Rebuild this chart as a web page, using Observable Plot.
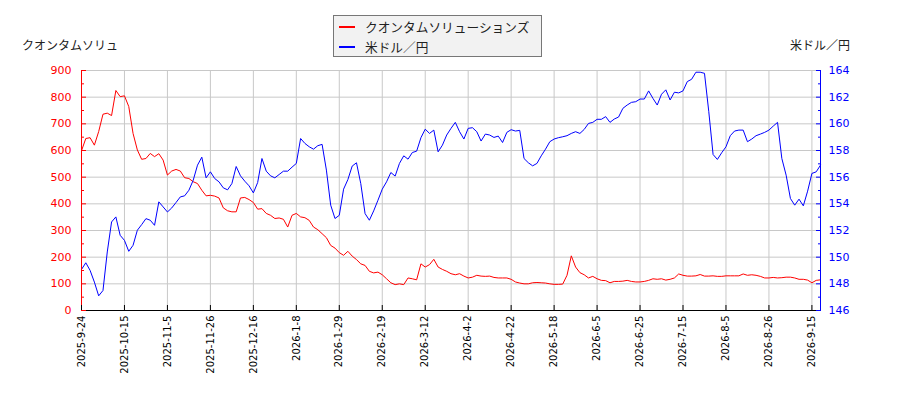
<!DOCTYPE html>
<html>
<head>
<meta charset="utf-8">
<script src="https://cdn.jsdelivr.net/npm/d3@7"></script>
<script src="https://cdn.jsdelivr.net/npm/@observablehq/plot@0.6"></script>
<style>
  body { margin: 0; background: white; }
  #wrap { position: relative; width: 900px; height: 400px; font-family: "Noto Sans CJK JP", "DejaVu Sans", sans-serif; }
  #wrap svg { position: absolute; left: 0; top: 0; }
  .lbl { position: absolute; font-size: 12px; color: #222; line-height: 1; white-space: nowrap; }
  #legend { position: absolute; left: 333px; top: 15px; width: 207px; height: 40px; border: 1px solid #777; background: #f2f2f2; }
  .row { position: absolute; left: 0; height: 20px; width: 100%; }
  .sw { position: absolute; left: 5px; top: 9px; width: 16px; height: 2px; }
  .tx { position: absolute; left: 31px; top: 2px; font-size: 12.7px; color: #222; line-height: 1.2; white-space: nowrap; }
</style>
</head>
<body>
<div id="wrap">
  <div class="lbl" style="left:22px; top:39px;">クオンタムソリュ</div>
  <div class="lbl" style="right:50px; top:39px;">米ドル／円</div>
  <div id="legend">
    <div class="row" style="top:1px"><div class="sw" style="background:#ff0000"></div><div class="tx">クオンタムソリューションズ</div></div>
    <div class="row" style="top:21px"><div class="sw" style="background:#0000ff"></div><div class="tx">米ドル／円</div></div>
  </div>
</div>
<script>
// Series names
const seriesNames = ["クオンタムソリューションズ", "米ドル／円"];

// Date tick labels (every 15 trading days)
const xTickLabels = ["2025-9-24","2025-10-15","2025-11-5","2025-11-26","2025-12-16","2026-1-8","2026-1-29","2026-2-19","2026-3-12","2026-4-2","2026-4-22","2026-5-18","2026-6-5","2026-6-25","2026-7-15","2026-8-5","2026-8-26","2026-9-15"];

// Left axis ticks (stock, yen)
const stockTicks = [0,100,200,300,400,500,600,700,800,900];
const stockMinorTicks = [50,150,250,350,450,550,650,750,850];
// Right axis ticks (USD/JPY)
const fxTicks = [146,148,150,152,154,156,158,160,162,164];
const fxMinorTicks = [147,149,151,153,155,157,159,161,163];

// クオンタムソリューションズ share price (sampled every 1.5 trading days)
const stockPrice = [
  599,645,648,620,671,736,740,731,825,802,805,765,664,602,567,570,589,577,588,564,
  508,523,529,523,498,495,483,476,451,430,432,429,422,385,374,
  370,370,422,424,416,405,380,382,364,357,345,347,342,313,357,364,351,348,338,313,
  303,288,273,244,234,217,207,222,204,191,175,169,147,141,
  144,134,119,104,97,100,97,122,119,115,175,163,172,192,163,154,147,138,134,138,
  129,122,125,132,129,128,129,124,122,122,122,117,107,103,
  100,100,104,105,104,103,100,98,98,99,132,205,163,142,134,122,128,119,113,112,
  104,109,109,110,113,109,107,107,109,113,119,117,119,114,
  117,122,137,132,129,129,130,135,129,129,130,128,128,130,130,130,130,137,132,134,
  132,128,122,122,124,122,123,125,125,122,117,117,114,104,113,115
];

// USD/JPY (same sampling)
const usdJpy = [
  149.08,149.58,149.01,148.13,147.1,147.5,150.39,152.64,153.02,151.64,151.26,150.44,150.89,152.02,152.44,152.89,152.77,152.39,154.15,153.77,
  153.39,153.69,154.1,154.52,154.6,155.02,155.77,156.9,157.5,155.95,156.4,155.9,155.65,155.2,155.05,
  155.52,156.8,156.1,155.7,155.35,154.82,155.6,157.4,156.45,156.1,155.95,156.2,156.45,156.45,156.75,157.03,158.9,158.53,158.28,158.1,
  158.36,158.46,156.53,153.9,152.9,153.14,155.1,155.82,156.83,157.08,155.52,153.27,152.77,153.47,
  154.27,155.1,155.65,156.35,156.08,157.03,157.6,157.35,157.85,157.95,158.96,159.6,159.28,159.53,157.9,158.4,159.16,159.66,160.11,159.41,
  158.86,159.66,159.71,159.41,158.71,159.23,159.16,158.98,159.08,158.6,159.36,159.56,159.46,159.51,
  157.4,157.08,156.85,157.03,157.6,158.1,158.66,158.86,158.96,159.03,159.11,159.28,159.41,159.28,159.58,160.03,160.11,160.34,160.34,160.54,
  160.11,160.36,160.51,161.16,161.41,161.61,161.66,161.86,161.86,162.47,161.91,161.41,162.22,162.55,
  161.79,162.37,162.32,162.47,163.17,163.34,163.87,163.87,163.79,160.91,157.7,157.33,157.83,158.28,159.11,159.46,159.53,159.53,158.66,158.86,
  159.11,159.23,159.36,159.53,159.83,160.11,157.4,156.15,154.4,153.9,154.35,153.85,154.95,156.28,156.4,156.9
];

const N = stockPrice.length;
const rows = stockPrice.map((v, i) => ({i, stock: v, fx: usdJpy[i]}));
const tickPos = xTickLabels.map((_, j) => j * 10);

// map FX range [146,164] onto the stock range [0,900]
const fxLo = 146, fxHi = 164, stLo = 0, stHi = 900;
const fxToY = v => stLo + (v - fxLo) * (stHi - stLo) / (fxHi - fxLo);
const yToFx = y => fxLo + (y - stLo) * (fxHi - fxLo) / (stHi - stLo);

const grid = "#c8c8c8";
const chart = Plot.plot({
  width: 900, height: 400,
  marginLeft: 81, marginRight: 80, marginTop: 70, marginBottom: 90,
  style: {fontFamily: "DejaVu Sans", fontSize: "10px", background: "transparent", overflow: "visible"},
  x: {domain: [0, N - 1], label: null},
  y: {domain: [stLo, stHi], label: null},
  marks: [
    Plot.gridY(stockTicks, {stroke: grid, strokeOpacity: 1}),
    Plot.gridX(tickPos, {stroke: grid, strokeOpacity: 1}),
    Plot.lineY(rows, {x: "i", y: "stock", stroke: "#ff0000", strokeWidth: 1}),
    Plot.lineY(rows, {x: "i", y: d => fxToY(d.fx), stroke: "#0000ff", strokeWidth: 1}),
    Plot.ruleX([0], {stroke: "#ff0000"}),
    Plot.ruleX([N - 1], {stroke: "#0000ff"}),
    Plot.ruleY([stLo], {stroke: "black"}),
    Plot.axisY(stockTicks, {anchor: "left", label: null, tickSize: -5, tickPadding: 15, color: "#ff0000", fontSize: 11}),
    Plot.axisY(stockMinorTicks, {anchor: "left", label: null, tickSize: -3, tickFormat: () => "", color: "#ff0000"}),
    Plot.axisY(fxTicks.map(fxToY), {anchor: "right", label: null, tickSize: -5, tickPadding: 13, color: "#0000ff", fontSize: 11,
      tickFormat: d => String(Math.round(yToFx(d)))}),
    Plot.axisY(fxMinorTicks.map(fxToY), {anchor: "right", label: null, tickSize: -3, tickFormat: () => "", color: "#0000ff"}),
    Plot.axisX(tickPos, {anchor: "bottom", label: null, tickSize: -5, tickPadding: 10, tickRotate: -90, fontSize: 10, color: "black",
      tickFormat: d => xTickLabels[tickPos.indexOf(d)]})
  ]
});
document.getElementById("wrap").prepend(chart);
</script>
</body>
</html>
